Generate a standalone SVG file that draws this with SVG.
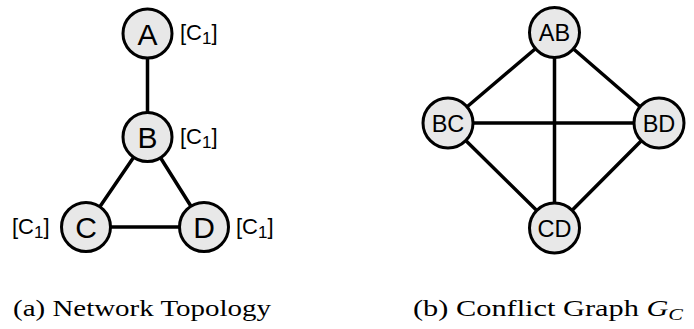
<svg xmlns="http://www.w3.org/2000/svg" width="694" height="329" viewBox="0 0 694 329">
<style>
.edge{stroke:#000;stroke-width:3.5;stroke-linecap:round;fill:none}
.node circle{fill:#e8e8e8;stroke:#000;stroke-width:3}
.big{font-family:"Liberation Sans",Arial,sans-serif;font-size:30px;text-anchor:middle;fill:#000}
.two{font-family:"Liberation Sans",Arial,sans-serif;font-size:23.5px;text-anchor:middle;fill:#000}
.lab{font-family:"Liberation Sans",Arial,sans-serif;font-size:22px;fill:#000}
.cap{font-family:"Liberation Serif","Times New Roman",serif;font-size:23.5px;fill:#000}
</style>
<rect width="694" height="329" fill="#fff"/>
<g id="connectors">
<line class="edge" x1="147.5" y1="33.5" x2="147.5" y2="137"/>
<line class="edge" x1="147.5" y1="137" x2="86" y2="227"/>
<line class="edge" x1="147.5" y1="137" x2="204" y2="227"/>
<line class="edge" x1="86" y1="227" x2="204" y2="227"/>
<line class="edge" x1="554.5" y1="32.5" x2="448" y2="123"/>
<line class="edge" x1="554.5" y1="32.5" x2="659" y2="123"/>
<line class="edge" x1="554.5" y1="32.5" x2="554.5" y2="228"/>
<line class="edge" x1="448" y1="123" x2="659" y2="123"/>
<line class="edge" x1="448" y1="123" x2="554.5" y2="228"/>
<line class="edge" x1="659" y1="123" x2="554.5" y2="228"/>
</g>
<g id="node-A" class="node"><circle cx="147.5" cy="33.5" r="24.5"/><text class="big" x="147.5" y="44.5">A</text><text class="lab" x="180" y="40">[C<tspan font-size="17" dy="4">1</tspan><tspan dy="-4">]</tspan></text></g>
<g id="node-B" class="node"><circle cx="147.5" cy="137" r="24.5"/><text class="big" x="147.5" y="148">B</text><text class="lab" x="180" y="143.5">[C<tspan font-size="17" dy="4">1</tspan><tspan dy="-4">]</tspan></text></g>
<g id="node-C" class="node"><circle cx="86" cy="227" r="24.5"/><text class="big" x="86" y="238">C</text><text class="lab" x="12" y="233.5">[C<tspan font-size="17" dy="4">1</tspan><tspan dy="-4">]</tspan></text></g>
<g id="node-D" class="node"><circle cx="204" cy="227" r="24.5"/><text class="big" x="204" y="238">D</text><text class="lab" x="236" y="233.5">[C<tspan font-size="17" dy="4">1</tspan><tspan dy="-4">]</tspan></text></g>
<g id="node-AB" class="node"><circle cx="554.5" cy="32.5" r="25"/><text class="two" x="554.5" y="41">AB</text></g>
<g id="node-BC" class="node"><circle cx="448" cy="123" r="25"/><text class="two" x="448" y="131.5">BC</text></g>
<g id="node-BD" class="node"><circle cx="659" cy="123" r="25"/><text class="two" x="659" y="131.5">BD</text></g>
<g id="node-CD" class="node"><circle cx="554.5" cy="228" r="25"/><text class="two" x="554.5" y="236.5">CD</text></g>
<text class="cap" x="13" y="316" textLength="258" lengthAdjust="spacingAndGlyphs">(a) Network Topology</text>
<text class="cap" x="413" y="316" textLength="270" lengthAdjust="spacingAndGlyphs">(b) Conflict Graph <tspan font-style="italic">G</tspan><tspan font-style="italic" font-size="17" dy="4">C</tspan></text>
</svg>
